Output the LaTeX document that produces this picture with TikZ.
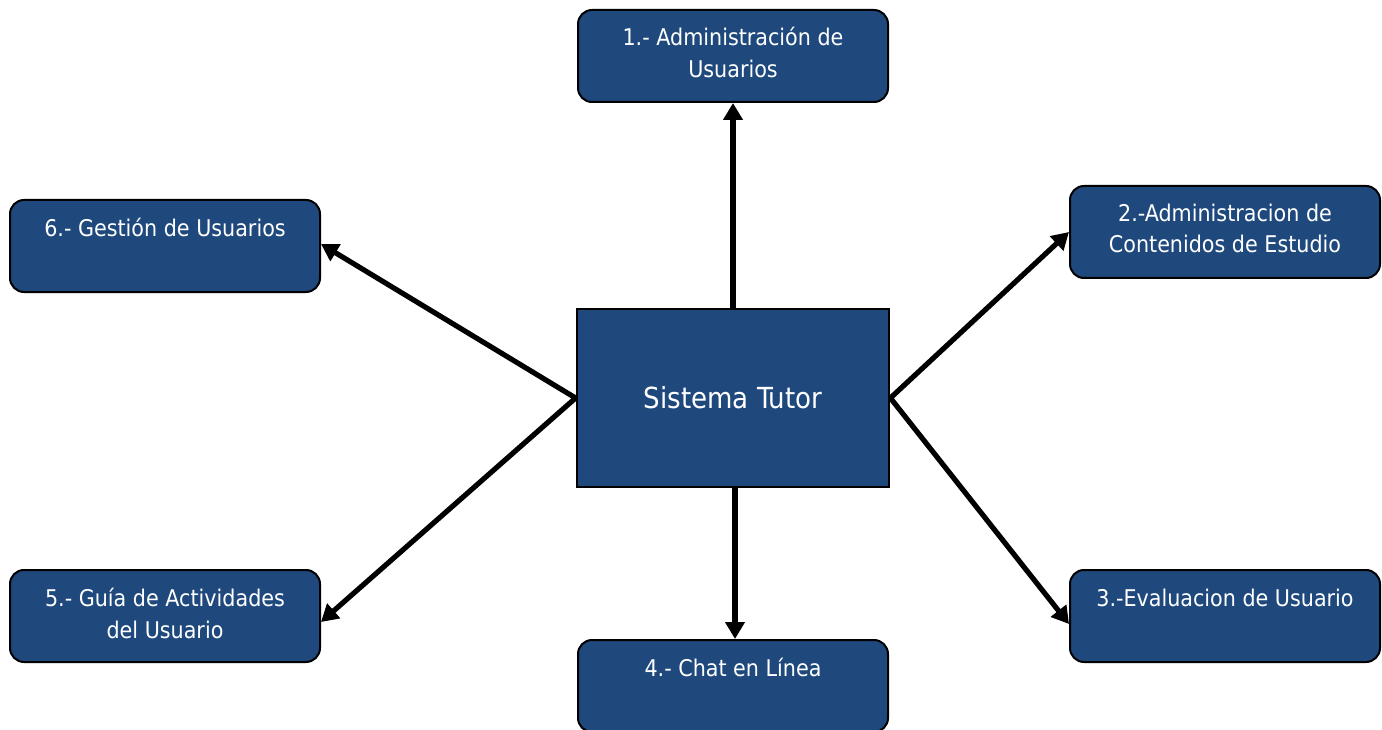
\documentclass[tikz,border=0pt]{standalone}
\usepackage{fontspec}
\setmainfont{DejaVu Sans Condensed}
\usetikzlibrary{arrows.meta}
\definecolor{boxblue}{RGB}{31,73,125}
\begin{document}
\begin{tikzpicture}[x=1pt,y=-1pt,
  module/.style={draw=black,line width=2pt,fill=boxblue,rounded corners=14pt,
    minimum width=310pt,minimum height=92pt,inner sep=0pt},
  modtext/.style={text=white,font=\fontsize{23}{31.5}\selectfont,align=center,anchor=north},
  core/.style={draw=black,line width=2.8pt,fill=boxblue,minimum width=312pt,
    minimum height=178pt,inner sep=0pt,text=white,font=\fontsize{29}{32}\selectfont},
  link/.style={line width=5.2pt,-{Triangle[length=17pt,width=19pt]}}]
\useasboundingbox (0,0) rectangle (1382,730);
% central system
\node[core] (c) at (733,398) {Sistema Tutor};
% modules
\node[module] (m1) at (733,56) {};
\node[module] (m2) at (1225,232) {};
\node[module] (m3) at (1225,616) {};
\node[module] (m4) at (733,686) {};
\node[module] (m5) at (165,616) {};
\node[module] (m6) at (165,246) {};
% module captions, set from the top of each box
\node[modtext] (t1) at (733,24) {1.- Administración de\\Usuarios};
\node[modtext] (t2) at (1225,200) {2.-Administracion de\\Contenidos de Estudio};
\node[modtext] (t3) at (1225,585) {3.-Evaluacion de Usuario};
\node[modtext] (t4) at (733,655) {4.- Chat en Línea};
\node[modtext] (t5) at (165,585) {5.- Guía de Actividades\\del Usuario};
\node[modtext] (t6) at (165,215) {6.- Gestión de Usuarios};
% connectors
\draw[link] (c.north) -- (m1.south);
\draw[link] (c.east) -- (m2.west);
\draw[link] (c.east) -- ([yshift=-8pt]m3.west);
\draw[link] ([xshift=2pt]c.south) -- ([xshift=2pt]m4.north);
\draw[link] (c.west) -- ([yshift=-6pt]m5.east);
\draw[link] (c.west) -- ([yshift=2pt]m6.east);
\end{tikzpicture}
\end{document}
